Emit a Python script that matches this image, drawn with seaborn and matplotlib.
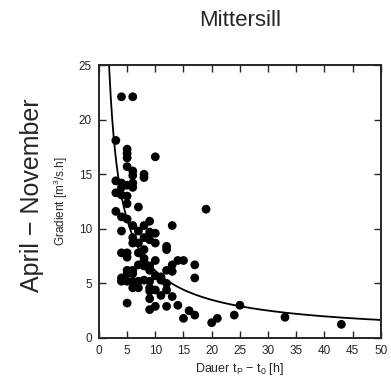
import numpy as np
import pandas as pd
import matplotlib
matplotlib.use("Agg")
import matplotlib.pyplot as plt
import seaborn as sns

# event duration t_P - t_0 [h] and rise gradient [m3/s.h]
dauer = [4, 6, 3, 5, 5, 5, 10, 5,
         6, 6, 8, 8, 3, 4, 5, 6, 4, 6,
         3, 4, 5, 5, 7, 19, 3, 4, 5, 9,
         6, 8, 13, 4, 7, 9, 10, 8, 9, 6, 6, 10, 7,
         12, 12, 8, 4, 5, 7, 5, 8, 8, 10, 14, 15,
         7, 8, 9, 13, 17, 17, 5, 6, 9, 12, 13,
         5, 6, 10, 11, 11, 4, 4, 5, 6, 7, 8, 9, 12,
         6, 7, 9, 9, 10, 12, 11, 13, 9, 5, 14, 10, 9, 12,
         16, 17, 15, 20, 21, 24, 25, 33, 43]
gradient = [22.1, 22.1, 18.1, 17.3, 16.9, 16.5, 16.6, 15.7,
            15.3, 14.9, 15.0, 14.7, 14.4, 14.2, 14.0, 14.2, 13.8, 13.8,
            13.3, 13.1, 13.0, 12.3, 12.0, 11.8, 11.6, 11.1, 10.9, 10.7,
            10.3, 10.3, 10.3, 9.8, 9.8, 9.7, 9.6, 9.2, 9.0, 9.2, 8.7, 8.7, 8.7,
            8.4, 8.1, 8.1, 7.8, 7.8, 7.8, 7.4, 7.3, 7.0, 7.1, 7.1, 7.1,
            6.7, 6.6, 6.6, 6.7, 6.7, 5.5, 6.2, 6.2, 6.2, 6.2, 6.1,
            5.9, 5.9, 5.7, 5.6, 5.3, 5.5, 5.2, 5.2, 5.2, 5.2, 5.3, 5.2, 5.0,
            4.6, 4.6, 4.6, 4.3, 4.4, 4.4, 3.9, 3.8, 3.6, 3.2, 3.0, 2.9, 2.6, 2.9,
            2.5, 2.1, 1.8, 1.4, 1.8, 2.1, 3.0, 1.9, 1.25]

# fitted power law gradient = a * dauer^b
fit_a = 40.4
fit_b = -0.817

df = pd.DataFrame({"dauer": dauer, "gradient": gradient})
xf = np.linspace(1.0, 50, 400)
fit = pd.DataFrame({"dauer": xf, "gradient": fit_a * xf ** fit_b})

sns.set_style("ticks")
plt.rcParams["font.family"] = ["Liberation Sans", "DejaVu Sans"]
plt.rcParams["mathtext.fontset"] = "custom"
plt.rcParams["mathtext.rm"] = "Liberation Sans"
plt.rcParams["mathtext.it"] = "Liberation Sans"

fig = plt.figure(figsize=(3.91, 3.83), dpi=100)
ax = fig.add_axes([0.253, 0.1175, 0.721, 0.7125])

sns.lineplot(data=fit, x="dauer", y="gradient", color="black", linewidth=1.3, ax=ax)
sns.scatterplot(data=df, x="dauer", y="gradient", color="black", s=40,
                edgecolor="none", ax=ax, zorder=3)

ax.set_xlim(0, 50)
ax.set_ylim(0, 25)
ax.set_xticks(range(0, 51, 5))
ax.set_yticks(range(0, 26, 5))
ax.tick_params(direction="in", length=5, width=1, top=True, right=True, labelsize=8.5,
               pad=5)
for s in ax.spines.values():
    s.set_linewidth(1.4)
    s.set_visible(True)

ax.set_xlabel("Dauer t$_\\mathrm{P}$ − t$_\\mathrm{0}$ [h]", fontsize=9, labelpad=3)
ax.set_ylabel("Gradient [m$^\\mathrm{3}$/s.h]", fontsize=8.5, labelpad=6)
ax.set_title("Mittersill", fontsize=16, pad=28)
fig.text(0.082, 0.49, "April − November", rotation=90, fontsize=18,
         ha="center", va="center")

fig.savefig("out.png", dpi=100)
